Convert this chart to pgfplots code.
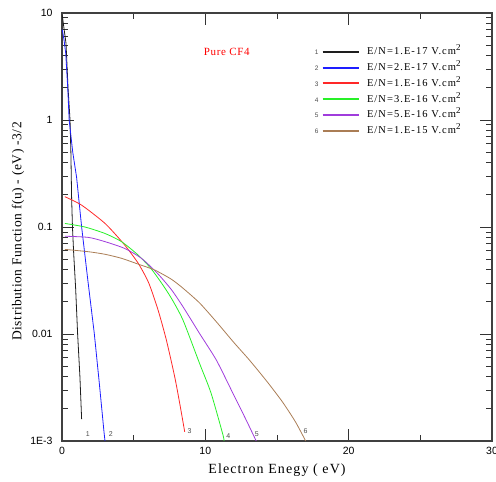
\documentclass[border=0pt]{standalone}
\usepackage{fontspec}
\setmainfont{Liberation Serif}
\setsansfont{Liberation Sans}
\usepackage{pgfplots}
\pgfplotsset{compat=1.18}
\definecolor{c1}{RGB}{30,30,30}
\definecolor{c2}{RGB}{30,30,255}
\definecolor{c3}{RGB}{255,40,40}
\definecolor{c4}{RGB}{40,240,40}
\definecolor{c5}{RGB}{160,60,220}
\definecolor{c6}{RGB}{170,125,85}
\pgfplotsset{lg/.style 2 args={legend image code/.code={%
  \draw[color=#2, line width=2pt] (0pt,0pt) -- (36pt,0pt);
  \node[font=\fontsize{6.5}{7}\sffamily, text=black!70, inner sep=0pt] at (-8pt,0pt) {#1};}}}
\newcommand{\sq}{\raisebox{4pt}{\small 2}}
\begin{document}
\begin{tikzpicture}
\begin{axis}[name=ax, width=430pt, height=428pt, scale only axis,
  ymode=log, xmin=0, xmax=30, ymin=1e-3, ymax=10,
  xtick={0,10,20,30}, minor xtick={5,15,25},
  ytick={1e-3,1e-2,1e-1,1,10}, yticklabels={1E-3,0.01,0.1,1,10},
  tick align=inside, major tick length=12pt, minor tick length=6pt,
  axis line style={black!75, line width=1.2pt},
  every tick/.style={black!80, line width=0.8pt},
  tick label style={font=\fontsize{10.5}{12}\sffamily},
  /pgf/number format/assume math mode=true,
  xticklabel style={yshift=-3pt},
  yticklabel style={xshift=-6pt},
  xlabel={Electron Enegy ( eV)},
  ylabel={Distribution Function f(u) - (eV) -3/2},
  xlabel style={font=\fontsize{14}{16}\selectfont\addfontfeature{LetterSpace=8},at={(axis description cs:0.5,-0.068)}, anchor=center},
  ylabel style={font=\fontsize{13.5}{15}\selectfont\addfontfeature{LetterSpace=4},at={(axis description cs:-0.102,0.49)}, anchor=center},
  legend style={draw=none, fill=none, inner sep=0pt, at={(axis description cs:0.5877,0.926)}, anchor=north west,
    font=\fontsize{10.5}{11}\selectfont\addfontfeature{LetterSpace=10}, row sep=2.4pt, column sep=6pt,
    nodes={inner sep=1.5pt, text height=8pt, text depth=2.5pt}},
  legend cell align=left,
]
\addplot[c1, line width=0.8pt, lg={1}{c1}] coordinates {(0.02,9.5) (0.15,7) (0.28,5.2) (0.42,2) (0.56,1) (0.62,0.5) (0.67,0.19) (0.73,0.1) (0.82,0.055) (0.95,0.027) (1.09,0.01) (1.25,0.004) (1.37,0.0016)};
\addlegendentry{E/N=1.E-17 V.cm\sq}
\addplot[c2, line width=0.8pt, lg={2}{c2}] coordinates {(0.02,7) (0.15,5.5) (0.26,4.2) (0.4,2) (0.5,1) (0.75,0.5) (1.02,0.29) (1.37,0.1) (1.8,0.032) (2.25,0.0102) (2.6,0.0035) (2.94,0.00118) (3.0,0.001)};
\addlegendentry{E/N=2.E-17 V.cm\sq}
\addplot[c3, line width=0.8pt, lg={3}{c3}, smooth, tension=0.4] coordinates {(0.2,0.192) (1.37,0.16) (3.0,0.108) (4.27,0.0705) (5.31,0.046) (6.05,0.03) (6.7,0.0168) (7.28,0.0088) (7.86,0.004) (8.21,0.00226) (8.56,0.00122)};
\addlegendentry{E/N=1.E-16 V.cm\sq}
\addplot[c4, line width=0.8pt, lg={4}{c4}, smooth, tension=0.4] coordinates {(0.2,0.108) (1.6,0.1) (3.0,0.087) (4.15,0.073) (5.31,0.0547) (6.2,0.041) (6.94,0.030) (7.63,0.0216) (8.44,0.0135) (9.6,0.0053) (10.4,0.0028) (11.23,0.00114) (11.3,0.001)};
\addlegendentry{E/N=3.E-16 V.cm\sq}
\addplot[c5, line width=0.8pt, lg={5}{c5}, smooth, tension=0.4] coordinates {(0.2,0.082) (1.83,0.080) (3.0,0.073) (4.38,0.063) (5.54,0.051) (6.65,0.037) (7.63,0.026) (8.44,0.018) (9.6,0.0101) (10.77,0.0057) (11.92,0.0028) (12.85,0.00157) (13.55,0.001)};
\addlegendentry{E/N=5.E-16 V.cm\sq}
\addplot[c6, line width=0.8pt, lg={6}{c6}, smooth, tension=0.4] coordinates {(0.2,0.0618) (1.83,0.0588) (3.0,0.0556) (4.15,0.051) (5.31,0.045) (6.47,0.0396) (7.63,0.0325) (8.44,0.0268) (9.6,0.0195) (10.77,0.0130) (12.0,0.0083) (13.08,0.0057) (14.3,0.0036) (15.4,0.0023) (16.3,0.0015) (17.0,0.001)};
\addlegendentry{E/N=1.E-15 V.cm\sq}
\node[text=red, font=\fontsize{11}{13}\selectfont\addfontfeature{LetterSpace=6}] at (axis cs:11.5,4.3) {Pure CF4};
\begin{scope}[every node/.style={font=\fontsize{7}{8}\sffamily, text=black!70, inner sep=0pt}]
\node at (axis cs:1.81,0.00116) {1};
\node at (axis cs:3.41,0.00116) {2};
\node at (axis cs:8.9,0.00124) {3};
\node at (axis cs:11.6,0.00111) {4};
\node at (axis cs:13.6,0.00116) {5};
\node at (axis cs:17.0,0.00124) {6};
\end{scope}
\end{axis}
\pgfresetboundingbox
\path[use as bounding box] ([xshift=-62pt,yshift=-40pt]ax.south west) rectangle ([xshift=4pt,yshift=13pt]ax.north east);
\end{tikzpicture}
\end{document}
